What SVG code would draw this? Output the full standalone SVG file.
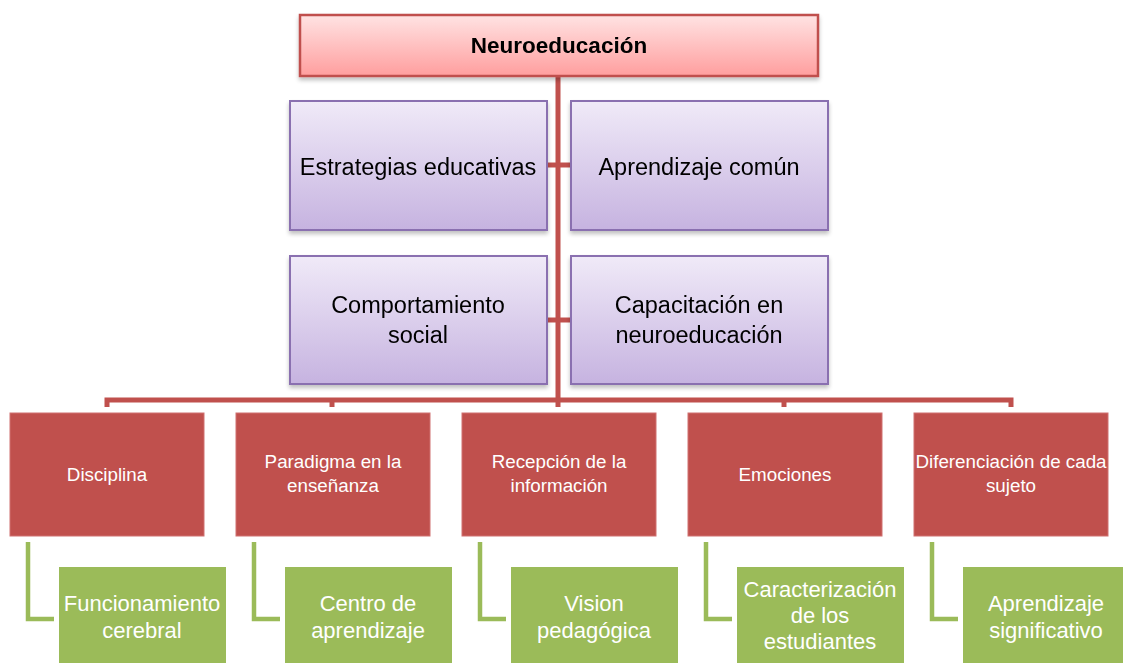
<svg xmlns="http://www.w3.org/2000/svg" width="1123" height="663" viewBox="0 0 1123 663">
<defs>
<linearGradient id="gRed" x1="0" y1="0" x2="0" y2="1">
<stop offset="0" stop-color="#FFE3E3"/><stop offset="1" stop-color="#FF9E9E"/>
</linearGradient>
<linearGradient id="gPur" x1="0" y1="0" x2="0" y2="1">
<stop offset="0" stop-color="#F0EAF8"/><stop offset="1" stop-color="#C6B3E0"/>
</linearGradient>
<filter id="sh" x="-10%" y="-10%" width="120%" height="130%">
<feGaussianBlur in="SourceAlpha" stdDeviation="2"/>
<feOffset dx="0" dy="3" result="b"/>
<feComponentTransfer><feFuncA type="linear" slope="0.25"/></feComponentTransfer>
<feMerge><feMergeNode/><feMergeNode in="SourceGraphic"/></feMerge>
</filter>
</defs>
<style>
.top{fill:url(#gRed);stroke:#C0504D;stroke-width:2.5}
.pur{fill:url(#gPur);stroke:#8A6FB0;stroke-width:2}
.red{fill:#C0504D;stroke:#D07070;stroke-width:1}
.grn{fill:#9BBB59}
.t{font-family:"Liberation Sans",Arial,sans-serif;text-anchor:middle}
.tb{font-size:22.5px;font-weight:bold;fill:#000}
.tp{font-size:23.5px;fill:#000}
.tr{font-size:18.8px;fill:#fff}
.tg{font-size:22px;fill:#fff}
.cr{fill:none;stroke:#C0504D;stroke-width:5}
.cg{fill:none;stroke:#9BBB59;stroke-width:4.5}
</style>
<rect width="1123" height="663" fill="#fff"/>
<g id="connectors">
<line class="cr" x1="558" y1="76" x2="558" y2="400"/>
<line class="cr" x1="547" y1="165" x2="571" y2="165"/>
<line class="cr" x1="547" y1="320" x2="571" y2="320"/>
<path class="cr" d="M107,407 V400 H1011 V407"/>
<line class="cr" x1="332" y1="400" x2="332" y2="407"/>
<line class="cr" x1="558" y1="400" x2="558" y2="407"/>
<line class="cr" x1="784" y1="400" x2="784" y2="407"/>
<path class="cg" d="M28,542 V619 H54"/>
<path class="cg" d="M254,542 V619 H280"/>
<path class="cg" d="M480,542 V619 H506"/>
<path class="cg" d="M706,542 V619 H732"/>
<path class="cg" d="M932,542 V619 H958"/>
</g>
<g id="n-neuro" filter="url(#sh)">
<rect class="top" x="300" y="15" width="518" height="61"/>
<text class="t tb" x="559" y="53">Neuroeducación</text>
</g>
<g id="n-estrategias" filter="url(#sh)">
<rect class="pur" x="290" y="101" width="257" height="129"/>
<text class="t tp" x="418" y="175">Estrategias educativas</text>
</g>
<g id="n-aprendizaje-comun" filter="url(#sh)">
<rect class="pur" x="571" y="101" width="257" height="129"/>
<text class="t tp" x="699" y="175">Aprendizaje común</text>
</g>
<g id="n-comportamiento" filter="url(#sh)">
<rect class="pur" x="290" y="256" width="257" height="128"/>
<text class="t tp" x="418" y="313">Comportamiento</text>
<text class="t tp" x="418" y="343">social</text>
</g>
<g id="n-capacitacion" filter="url(#sh)">
<rect class="pur" x="571" y="256" width="257" height="128"/>
<text class="t tp" x="699" y="313">Capacitación en</text>
<text class="t tp" x="699" y="343">neuroeducación</text>
</g>
<g id="n-disciplina">
<rect class="red" x="10" y="413" width="194" height="123"/>
<text class="t tr" x="107" y="481">Disciplina</text>
</g>
<g id="n-paradigma">
<rect class="red" x="236" y="413" width="194" height="123"/>
<text class="t tr" x="333" y="468">Paradigma en la</text>
<text class="t tr" x="333" y="492">enseñanza</text>
</g>
<g id="n-recepcion">
<rect class="red" x="462" y="413" width="194" height="123"/>
<text class="t tr" x="559" y="468">Recepción de la</text>
<text class="t tr" x="559" y="492">información</text>
</g>
<g id="n-emociones">
<rect class="red" x="688" y="413" width="194" height="123"/>
<text class="t tr" x="785" y="481">Emociones</text>
</g>
<g id="n-diferenciacion">
<rect class="red" x="914" y="413" width="194" height="123"/>
<text class="t tr" x="1011" y="468">Diferenciación de cada</text>
<text class="t tr" x="1011" y="492">sujeto</text>
</g>
<g id="n-funcionamiento">
<rect class="grn" x="59" y="567" width="167" height="96"/>
<text class="t tg" x="142" y="611">Funcionamiento</text>
<text class="t tg" x="142" y="638">cerebral</text>
</g>
<g id="n-centro">
<rect class="grn" x="285" y="567" width="167" height="96"/>
<text class="t tg" x="368" y="611">Centro de</text>
<text class="t tg" x="368" y="638">aprendizaje</text>
</g>
<g id="n-vision">
<rect class="grn" x="511" y="567" width="167" height="96"/>
<text class="t tg" x="594" y="611">Vision</text>
<text class="t tg" x="594" y="638">pedagógica</text>
</g>
<g id="n-caracterizacion">
<rect class="grn" x="737" y="567" width="167" height="96"/>
<text class="t tg" x="820" y="597">Caracterización</text>
<text class="t tg" x="820" y="623">de los</text>
<text class="t tg" x="820" y="649">estudiantes</text>
</g>
<g id="n-significativo">
<rect class="grn" x="963" y="567" width="160" height="96"/>
<text class="t tg" x="1046" y="611">Aprendizaje</text>
<text class="t tg" x="1046" y="638">significativo</text>
</g>
</svg>
